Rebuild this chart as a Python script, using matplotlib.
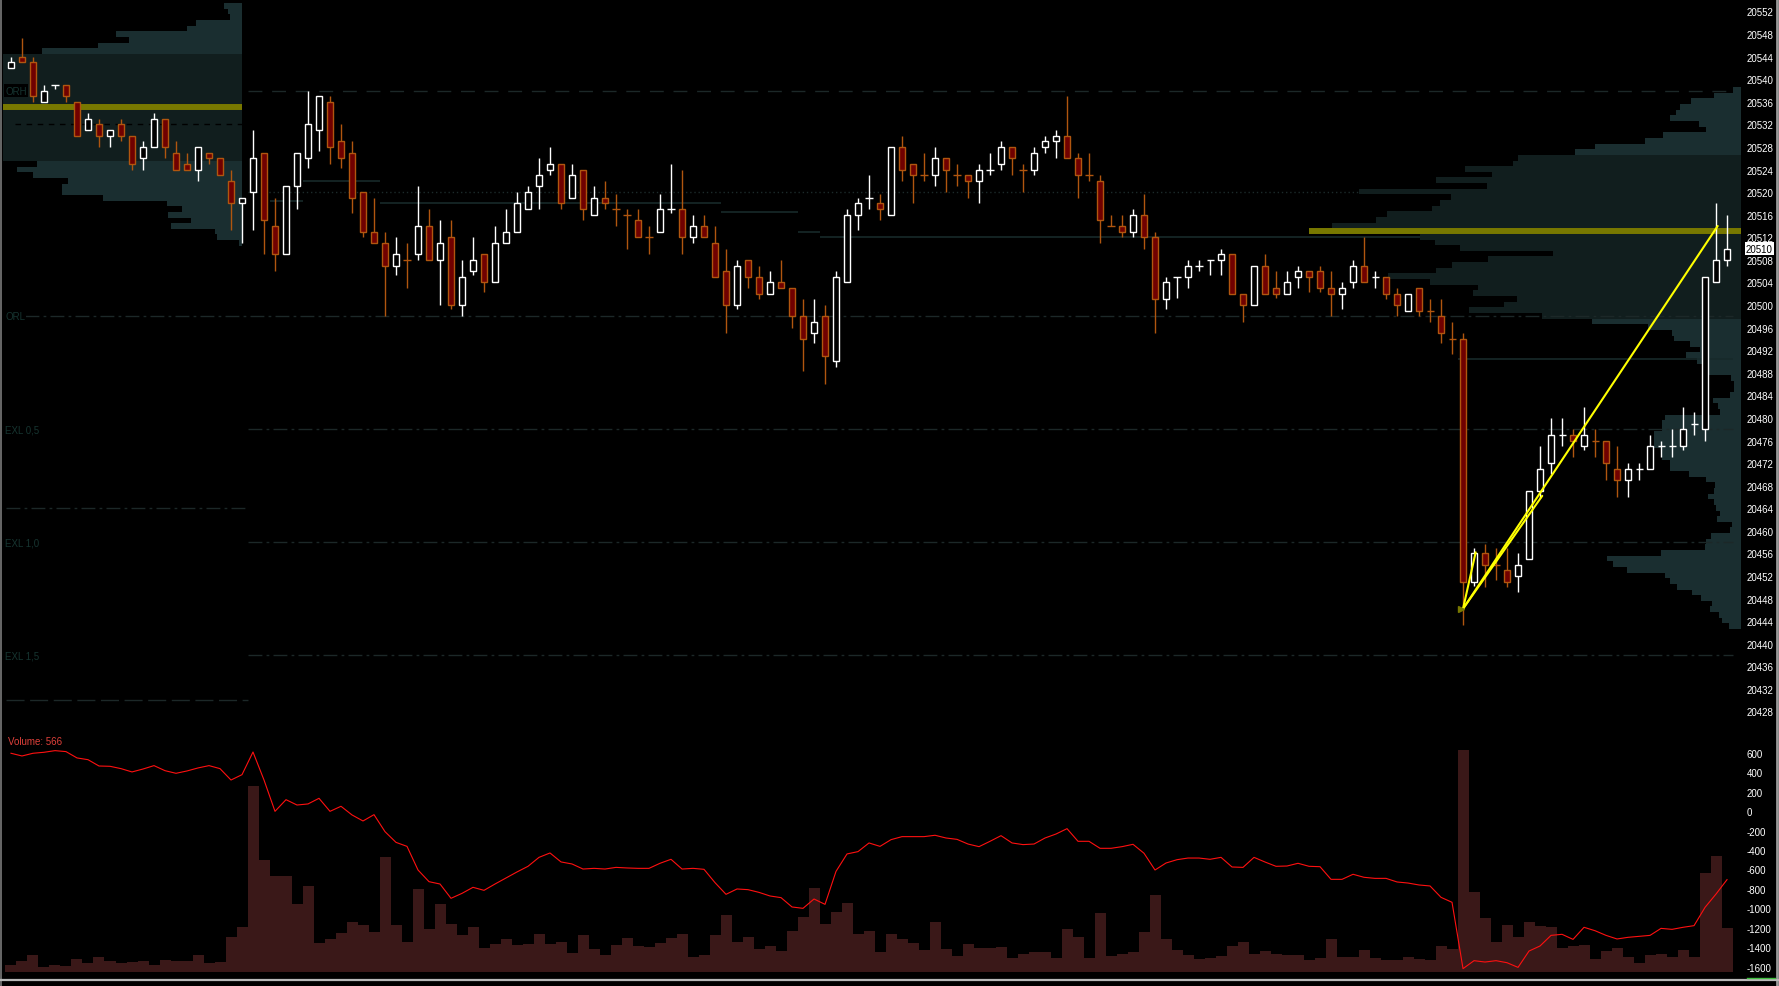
import matplotlib.pyplot as plt
import numpy as np

plt.rcParams['font.family'] = ['Liberation Sans', 'DejaVu Sans']

# ---- candles (1 minute bars, oldest first) ----
opens = [20542, 20544, 20543, 20536, 20539, 20539, 20536, 20531, 20532, 20530,
         20532, 20530, 20526, 20528, 20533, 20527, 20525, 20524, 20527, 20526,
         20522, 20518, 20520, 20527, 20514, 20509, 20521, 20526, 20531, 20536,
         20529, 20527, 20520, 20513, 20511, 20507, 20508, 20509, 20514, 20508,
         20512, 20500, 20506, 20509, 20504, 20511, 20513, 20517, 20521, 20524,
         20525, 20519, 20524, 20516, 20519, 20517, 20516, 20515, 20512, 20513,
         20517, 20517, 20512, 20514, 20511, 20506, 20500, 20508, 20505, 20502,
         20504, 20503, 20498, 20495, 20498, 20490, 20504, 20516, 20519, 20518,
         20516, 20528, 20525, 20523, 20523, 20526, 20523, 20523, 20522, 20524,
         20525, 20528, 20524, 20524, 20528, 20529, 20530, 20526, 20523, 20522,
         20514, 20514, 20513, 20516, 20512, 20501, 20505, 20505, 20507, 20508,
         20508, 20509, 20502, 20500, 20507, 20503, 20502, 20505, 20506, 20506,
         20503, 20502, 20504, 20507, 20505, 20505, 20502, 20499, 20503, 20499,
         20498, 20494, 20494, 20451, 20456, 20454, 20453, 20452, 20455, 20467,
         20472, 20477, 20477, 20475, 20476, 20476, 20471, 20469, 20471, 20471,
         20475, 20475, 20475, 20479, 20478, 20504, 20508]
highs = [20544, 20547.25, 20544, 20539, 20539, 20539, 20536, 20534, 20533, 20531,
         20533, 20530, 20529, 20534, 20533, 20529, 20527, 20528, 20527, 20526,
         20524, 20519, 20531, 20527, 20519, 20521, 20527, 20538, 20537, 20537,
         20532, 20529, 20520, 20519, 20513, 20512, 20511, 20521, 20517, 20515,
         20515, 20508, 20512, 20509, 20514, 20517, 20520, 20521, 20526, 20528,
         20525, 20525, 20524, 20521, 20522, 20519.75, 20517, 20517, 20514, 20519.75,
         20525, 20524, 20516, 20516, 20514, 20510, 20508, 20508, 20507, 20506,
         20508, 20503, 20501, 20501, 20500, 20506, 20517, 20519, 20523, 20519.75,
         20528, 20530, 20525, 20527, 20528, 20526, 20525, 20523, 20525, 20527,
         20529, 20528, 20525, 20528, 20530, 20531, 20537, 20527, 20527, 20523,
         20516, 20516, 20517, 20519.75, 20513, 20505, 20505, 20508, 20508, 20508,
         20510, 20509, 20502, 20507, 20509, 20506, 20506, 20507, 20506, 20507,
         20506, 20504, 20508, 20512, 20506, 20505, 20503, 20502, 20503, 20501,
         20501, 20497, 20495, 20457, 20457.75, 20457, 20457, 20456, 20467, 20475,
         20480, 20480, 20478, 20482, 20478, 20476, 20475, 20472, 20472, 20477,
         20476, 20478, 20482, 20481, 20505, 20518, 20516]
lows = [20542, 20543, 20536, 20536, 20538.25, 20536, 20530, 20531, 20528, 20528,
        20529, 20524, 20524, 20528, 20526, 20524, 20524, 20522, 20525, 20523,
        20513.25, 20511, 20513.25, 20509, 20506, 20509, 20517, 20524.25, 20527.25, 20525,
        20524.25, 20516.25, 20512, 20511, 20498, 20505.25, 20503, 20508, 20508, 20500,
        20499.25, 20498, 20505.25, 20502.25, 20504, 20511, 20513, 20517, 20517, 20523,
        20517, 20519, 20515, 20516, 20517, 20514, 20510, 20512, 20509, 20513,
        20516.25, 20509, 20511, 20512, 20505, 20495, 20499.25, 20503, 20501, 20502,
        20503, 20496, 20488.25, 20493.25, 20486, 20489, 20504, 20513.25, 20517, 20515,
        20516, 20522, 20518, 20522, 20521, 20520, 20521, 20519, 20518, 20523,
        20524, 20523, 20520, 20523, 20527, 20526, 20526, 20519, 20522, 20511,
        20514, 20512, 20512, 20510, 20495, 20499.25, 20501.25, 20503, 20506, 20505.25,
        20505.25, 20502, 20497, 20500, 20502, 20501.25, 20502, 20503, 20502.25, 20502.25,
        20498, 20499.25, 20503, 20504, 20503, 20501, 20498, 20499, 20498, 20497,
        20493.25, 20491.25, 20443.25, 20450.25, 20450, 20451.25, 20450, 20449.25, 20455, 20465.75,
        20470, 20475, 20473, 20474.25, 20473, 20469, 20466, 20466, 20469, 20471,
        20473, 20473, 20474.25, 20477, 20476, 20504, 20507]
closes = [20543, 20543, 20537, 20538, 20539, 20537, 20530, 20533, 20530, 20531,
          20530, 20525, 20528, 20533, 20528, 20524, 20524, 20528, 20526, 20523,
          20518, 20519, 20526, 20515, 20509, 20521, 20527, 20532, 20537, 20528,
          20526, 20519, 20513, 20511, 20507, 20509, 20508, 20514, 20508, 20511,
          20500, 20505, 20508, 20504, 20511, 20513, 20518, 20520, 20523, 20525,
          20518, 20523, 20517, 20519, 20518, 20517, 20516, 20512, 20512, 20517,
          20517, 20512, 20514, 20512, 20505, 20500, 20507, 20505, 20502, 20504,
          20503, 20498, 20494, 20497, 20491, 20505, 20516, 20518, 20519, 20517,
          20528, 20524, 20523, 20523, 20526, 20524, 20523, 20522, 20524, 20524,
          20528, 20526, 20524, 20527, 20529, 20530, 20526, 20523, 20523, 20515,
          20514, 20513, 20516, 20512, 20501, 20504, 20505, 20507, 20507, 20508,
          20509, 20502, 20500, 20507, 20502, 20502, 20504, 20506, 20505, 20503,
          20502, 20503, 20507, 20504, 20505, 20502, 20500, 20502, 20499, 20499,
          20495, 20494, 20451, 20456, 20454, 20454, 20451, 20454, 20467, 20471,
          20477, 20477, 20476, 20477, 20476, 20472, 20469, 20471, 20471, 20475,
          20475, 20475, 20478, 20479, 20505, 20508, 20510]
# bar numbers (1-based) of the dojis that are drawn as up bars
doji_up = [5, 61, 79, 90, 107, 109, 110, 125, 142, 149, 151, 152, 154]

volumes = [86, 138, 216, 60, 86, 73, 164, 112, 190, 138,
           112, 125, 138, 86, 151, 138, 138, 216, 112, 125,
           449, 579, 2411, 1447, 1240, 1240, 877, 1110, 372, 423,
           501, 644, 605, 514, 1486, 605, 384, 1071, 553, 877,
           618, 475, 579, 307, 359, 423, 346, 359, 488, 359,
           384, 242, 475, 294, 216, 346, 436, 333, 320, 372,
           436, 488, 190, 216, 475, 734, 384, 449, 294, 333,
           268, 527, 708, 1084, 618, 773, 890, 488, 527, 255,
           488, 423, 372, 281, 644, 294, 203, 359, 307, 307,
           320, 177, 229, 255, 255, 177, 553, 449, 177, 760,
           203, 229, 255, 514, 994, 423, 281, 216, 164, 177,
           203, 333, 384, 229, 268, 229, 216, 216, 151, 177,
           423, 190, 190, 281, 177, 151, 151, 190, 164, 151,
           333, 294, 2873, 1032, 700, 384, 605, 449, 644, 592,
           579, 307, 333, 346, 164, 268, 307, 190, 112, 216,
           229, 190, 281, 190, 1279, 1499, 566]
cum_delta = [594, 566, 594, 604, 621, 611, 546, 528, 463, 460,
             436, 402, 432, 467, 415, 388, 412, 443, 467, 436,
             319, 374, 607, 319, -3, 117, 62, 73, 131, -3,
             49, -40, -102, -37, -212, -322, -363, -606, -726, -750,
             -897, -846, -784, -815, -750, -688, -626, -568, -476, -431,
             -523, -544, -596, -589, -596, -579, -585, -589, -589, -537,
             -496, -596, -589, -599, -736, -856, -801, -808, -836, -873,
             -890, -986, -1000, -904, -959, -620, -441, -417, -328, -363,
             -294, -263, -263, -263, -249, -277, -291, -339, -366, -311,
             -253, -328, -345, -339, -277, -236, -181, -311, -311, -383,
             -383, -366, -342, -434, -606, -534, -500, -483, -483, -496,
             -476, -575, -579, -476, -524, -568, -565, -537, -568, -572,
             -702, -702, -650, -681, -692, -692, -729, -740, -760, -770,
             -887, -938, -1620, -1538, -1552, -1538, -1559, -1607, -1439, -1387,
             -1278, -1267, -1319, -1195, -1230, -1278, -1315, -1298, -1288, -1278,
             -1206, -1216, -1195, -1178, -990, -853, -705]

# ---- volume profiles, 1 point rows from the top price down ----
left_prof_top = 20553.5
left_prof = [18, 14, 12, 46, 55, 126, 113, 144, 200] + [239] * 19 + \
            [205, 225, 209, 174, 180, 180, 139, 75, 60, 74, 51, 71, 27, 25, 3]
left_va = (9, 28)
right_prof_top = 20538.6
right_prof = [8, 27, 50, 61, 65, 71, 42, 35, 78, 96, 146, 166,
              223, 228, 276, 249, 305, 254, 382, 290, 301, 309, 354, 365, 409, 432,
              321, 306, 281, 188, 253, 289, 305, 353, 311, 263, 268, 224, 237, 272, 199,
              149, 93, 69, 67, 51, 41, 55, 44, 32, 32, 10, 7, 7, 11, 28, 23, 21, 76, 79,
              79, 87, 87, 87, 79, 79, 71, 71, 52, 35, 26, 27, 33, 27, 25, 21, 24, 9, 11,
              30, 35, 36, 80, 134, 128, 114, 76, 71, 64, 49, 40, 29, 31, 22, 19, 12]
right_va = (12, 41)
left_poc = 20535
right_poc = 20513.1

# ---- session levels: (label, price, from bar, to bar, style) ----
levels = [('ORH', 20538, 21.5, 156.5, 'dash'),
          ('ORL', 20498, 1.3, 156.5, 'dashdot'),
          ('EXL 0,5', 20478, 21.5, 156.5, 'dashdot'),
          ('', 20464, -0.45, 21.5, 'dashdot'),
          ('EXL 1,0', 20458, 21.5, 156.5, 'dashdot'),
          ('EXL 1,5', 20438, 21.5, 156.5, 'dashdot'),
          ('', 20430, -0.45, 21.5, 'long')]
step_levels = [(20518.5, 23.5, 26.5), (20522, 26.5, 33.5), (20518, 33.5, 64.5),
               (20516.4, 64.5, 71.5), (20513, 71.5, 73.5), (20512, 73.5, 128.1),
               (20490.5, 131.5, 156.5)]

# trend lines drawn on the chart (bar, price)
trend_start = (132.0, 20446.2)
trend_ends = [(155.15, 20514.0), (139.2, 20466.2), (133.15, 20456.2)]

price_ticks = list(range(20428, 20553, 4))
delta_ticks = list(range(-1600, 601, 200))
last_price = 20510

# ---------------------------------------------------------------
W, H = 1779, 987
fig = plt.figure(figsize=(W / 100, H / 100), dpi=100, facecolor='black')
ax = fig.add_axes([2 / W, 1 - 730 / H, 1739 / W, 730 / H], facecolor='black')
axb = fig.add_axes([2 / W, 1 - 975 / H, 1739 / W, 240 / H], facecolor='black', sharex=ax)
axv = fig.add_axes([2 / W, 1 - 975 / H, 1739 / W, 240 / H], facecolor='none', sharex=ax)

x0, x1 = -0.818, 157.27
ax.set_xlim(x0, x1)
ax.set_ylim(20424.9, 20554.21)

teal = '#1a2e30'
teal_dark = '#111e1e'
px = 1 / 11.0  # one pixel in bar units

# profiles
for k, w in enumerate(left_prof):
    c = teal_dark if left_va[0] <= k < left_va[1] else teal
    ax.barh(left_prof_top - k - 0.5, w * px, height=1.0, left=21.0 - w * px,
            color=c, lw=0, zorder=1)
for k, w in enumerate(right_prof):
    c = teal_dark if right_va[0] <= k < right_va[1] else teal
    ax.barh(right_prof_top - k - 0.5, w * px, height=1.0, left=x1 - w * px,
            color=c, lw=0, zorder=1)
ax.hlines(left_poc, -0.73, 21.0, color='#787800', lw=4.3, zorder=3)
ax.hlines(right_poc, 118.0, x1, color='#787800', lw=4.3, zorder=3)
ax.hlines(20532, 0.36, 21.45, color='black', lw=1, linestyles=(0, (4, 4)), zorder=2)

styles = {'dash': (0, (10, 7)), 'dashdot': (0, (10, 3, 2, 3)), 'long': (0, (13, 4))}
for lab, p, a, b, st in levels:
    ax.hlines(p, a, b, color='#1c2828', lw=1, linestyles=styles[st], zorder=2)
    if lab:
        ax.text(x0 + 3 * px, p, lab, color='#163430', fontsize=7, va='center', ha='left',
                zorder=8, bbox=dict(boxstyle='square,pad=0.15', fc='black', ec='none'))
for p, a, b in step_levels:
    ax.hlines(p, a, b, color='#172a2a', lw=1.2, zorder=2)
ax.hlines(20520, 21.5, 122.5, color='#1c2a2a', lw=1, linestyles=(0, (1, 2)), zorder=2)

# candles
o = np.array(opens, float)
h = np.array(highs, float)
l = np.array(lows, float)
c = np.array(closes, float)
x = np.arange(len(o))
up = (c > o) | np.isin(x + 1, doji_up)
red_edge = '#b0560f'
wick_col = np.where(up, 'white', red_edge)
ax.vlines(x, l, h, colors=wick_col, lw=1.0, zorder=4)
body_lo = np.minimum(o, c)
body_h = np.abs(c - o)
solid = body_h > 0
ax.bar(x[solid], body_h[solid], bottom=body_lo[solid], width=0.58,
       color=np.where(up[solid], 'black', '#700000'),
       edgecolor=np.where(up[solid], 'white', red_edge), lw=1.0, zorder=5)
doji = ~solid
ax.hlines(c[doji], x[doji] - 0.32, x[doji] + 0.32,
          colors=np.where(up[doji], 'white', red_edge), lw=1.0, zorder=5)

# trend lines
for xe, ye in trend_ends:
    ax.plot([trend_start[0], xe], [trend_start[1], ye], color='#ffff00', lw=1.5,
            zorder=7, solid_capstyle='round')
ax.plot(trend_start[0] - 0.2, trend_start[1], marker='>', color='#787800', ms=4, zorder=7)

# price scale
ax.yaxis.tick_right()
ax.set_yticks(price_ticks)
ax.set_yticklabels([str(v) for v in price_ticks])
ax.tick_params(axis='y', length=0, pad=4, labelsize=7, labelcolor='white')
ax.tick_params(axis='x', bottom=False, labelbottom=False)
ax.annotate(str(last_price), xy=(1, last_price), xycoords=('axes fraction', 'data'),
            xytext=(3.5, 0), textcoords='offset points', va='center', ha='left',
            fontsize=7, color='black', annotation_clip=False, zorder=10,
            bbox=dict(boxstyle='square,pad=0.12', fc='white', ec='none'))

# volume panel
axb.bar(x, volumes, width=1.0, color='#3a1818', lw=0)
axb.set_ylim(-30, 3078)
axb.set_yticks([])
axb.tick_params(axis='x', bottom=False, labelbottom=False)
axv.plot(x, cum_delta, color='#ff1010', lw=0.8)
axv.set_ylim(-1675, 792)
axv.yaxis.tick_right()
axv.set_yticks(delta_ticks)
axv.set_yticklabels([str(v) for v in delta_ticks])
axv.tick_params(axis='y', length=0, pad=4, labelsize=7, labelcolor='white')
axv.tick_params(axis='x', bottom=False, labelbottom=False)
axv.text(0.0035, 0.972, 'Volume: 566', transform=axv.transAxes, color='#e0403a',
         fontsize=7, va='center', ha='left')

for a in (ax, axb, axv):
    for s in a.spines.values():
        s.set_visible(False)

# window frame bits
fig.add_artist(plt.Line2D([0.0006, 0.0006], [0, 1], color='#7a7a7a', lw=1.2))
fig.add_artist(plt.Line2D([1 - 2 / W, 1 - 2 / W], [0, 1], color='#9a9a9a', lw=2))
fig.add_artist(plt.Line2D([0, 1], [1 - 980.5 / H] * 2, color='#b8b8b8', lw=1.6))
fig.add_artist(plt.Line2D([1747 / W, 1775 / W], [1 - 979 / H] * 2, color='#40c040', lw=1))

fig.savefig('out.png', dpi=100, facecolor='black')
